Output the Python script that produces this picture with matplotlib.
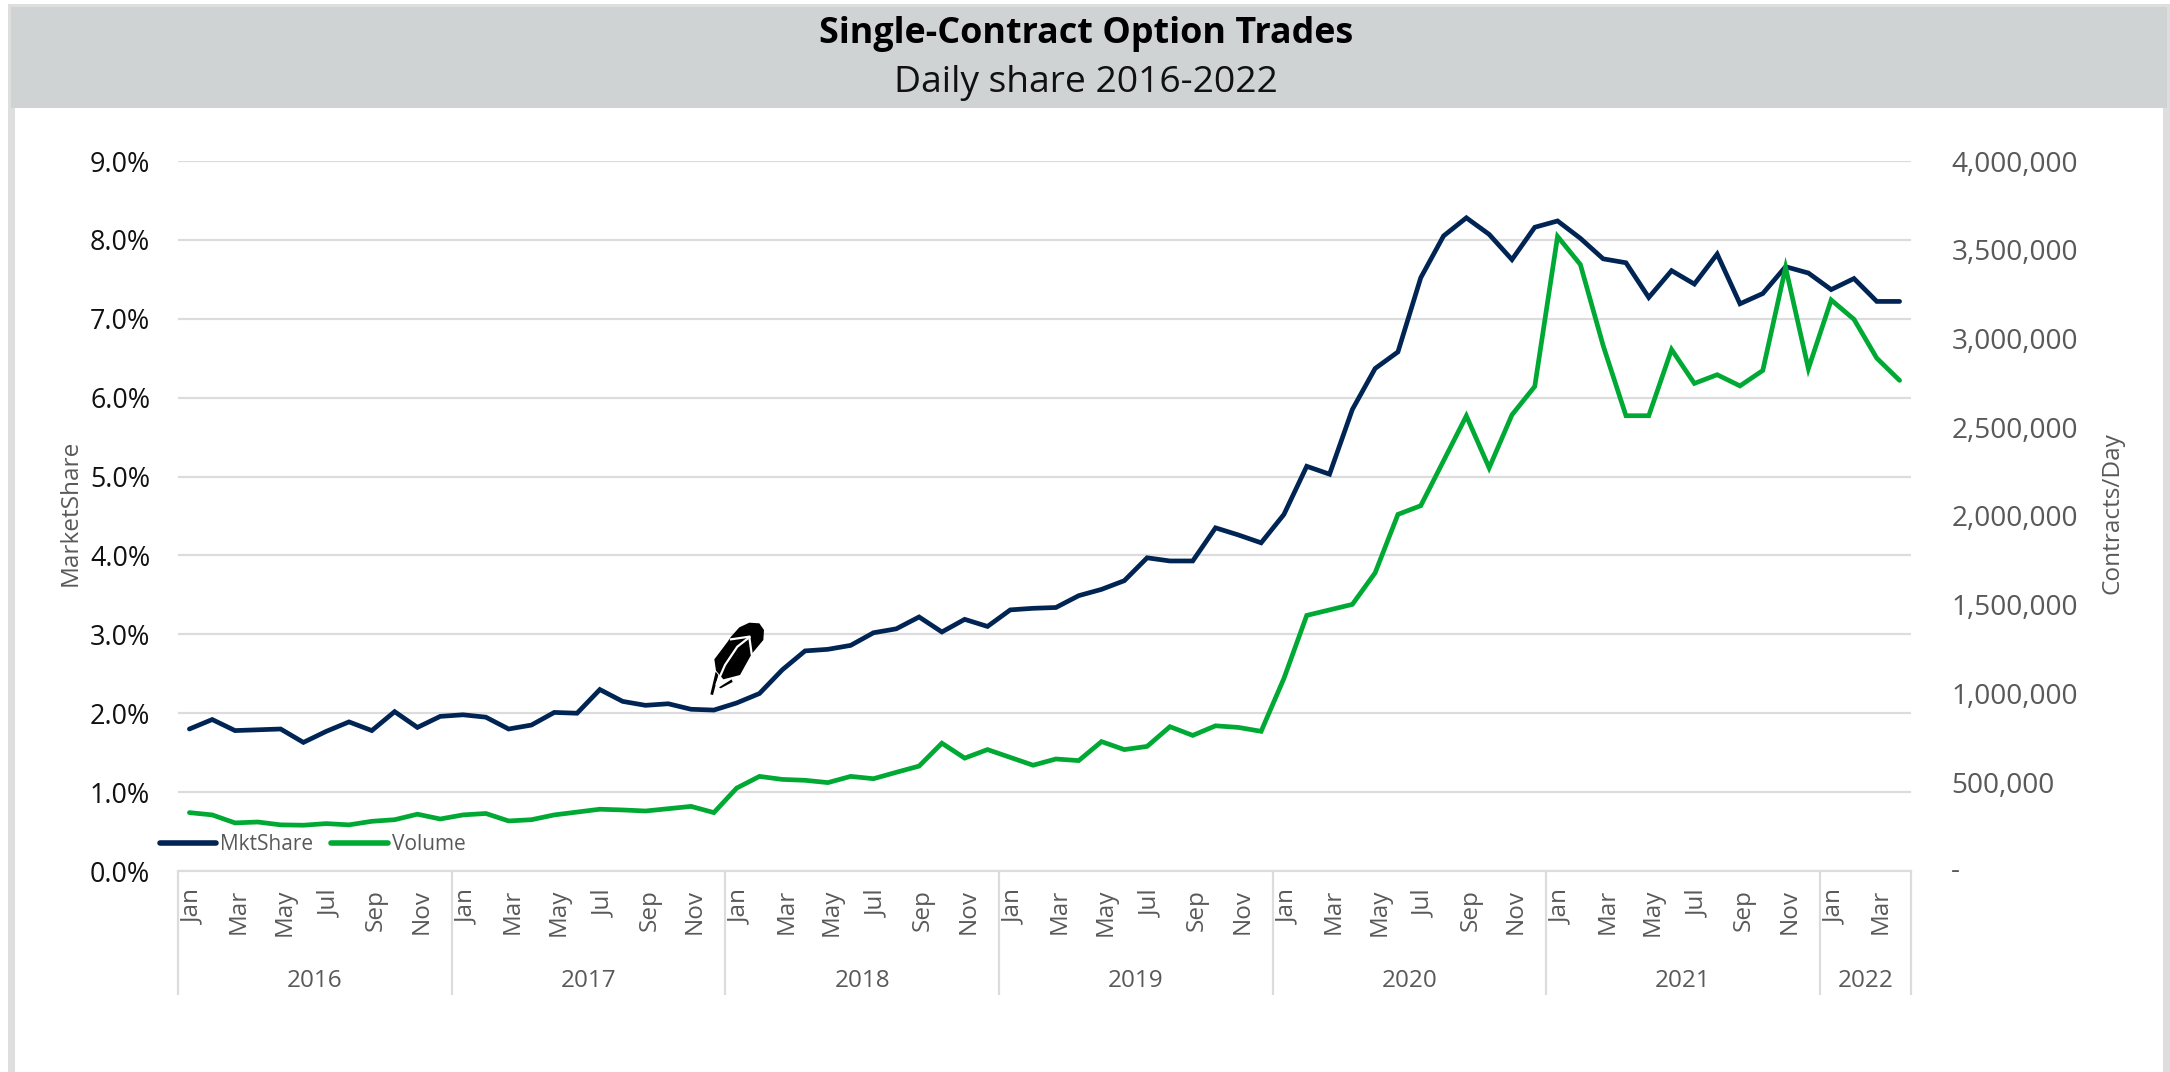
import matplotlib
matplotlib.use("Agg")
import matplotlib.pyplot as plt
from matplotlib.patches import Rectangle, PathPatch
from matplotlib.path import Path
from matplotlib.lines import Line2D
from matplotlib.ticker import FixedLocator, FixedFormatter
from matplotlib.transforms import ScaledTranslation

plt.rcParams['font.family'] = ['Open Sans', 'DejaVu Sans']

TITLE = "Single-Contract Option Trades"
SUBTITLE = "Daily share 2016-2022"
MONTHS = ["Jan", "Feb", "Mar", "Apr", "May", "Jun", "Jul", "Aug", "Sep", "Oct", "Nov", "Dec"]
YEARS = ["2016", "2017", "2018", "2019", "2020", "2021", "2022"]
MONTHS_IN_YEAR = [12, 12, 12, 12, 12, 12, 4]

mkt_share = [
    1.80, 1.92, 1.78, 1.79, 1.80, 1.63, 1.77, 1.89, 1.78, 2.02, 1.82, 1.96,
    1.98, 1.95, 1.80, 1.85, 2.01, 2.00, 2.30, 2.15, 2.10, 2.12, 2.05, 2.04,
    2.13, 2.25, 2.55, 2.79, 2.81, 2.86, 3.02, 3.07, 3.22, 3.03, 3.19, 3.10,
    3.31, 3.33, 3.34, 3.49, 3.57, 3.68, 3.97, 3.93, 3.93, 4.35, 4.26, 4.16,
    4.52, 5.13, 5.03, 5.85, 6.37, 6.58, 7.52, 8.05, 8.28, 8.07, 7.75, 8.16,
    8.24, 8.02, 7.76, 7.71, 7.27, 7.61, 7.44, 7.82, 7.19, 7.32, 7.66, 7.58,
    7.37, 7.51, 7.22, 7.22,
]
volume = [
    329e3, 316e3, 271e3, 276e3, 260e3, 258e3, 267e3, 260e3, 280e3, 289e3, 320e3, 293e3,
    316e3, 324e3, 282e3, 289e3, 316e3, 332e3, 348e3, 344e3, 338e3, 351e3, 364e3, 329e3,
    467e3, 533e3, 516e3, 511e3, 498e3, 533e3, 520e3, 556e3, 591e3, 720e3, 636e3, 684e3,
    640e3, 596e3, 631e3, 622e3, 729e3, 684e3, 702e3, 813e3, 764e3, 818e3, 809e3, 787e3,
    1085e3, 1440e3, 1471e3, 1502e3, 1680e3, 2009e3, 2058e3, 2311e3, 2564e3, 2271e3, 2570e3, 2730e3,
    3575e3, 3417e3, 2960e3, 2565e3, 2565e3, 2938e3, 2747e3, 2796e3, 2733e3, 2820e3, 3400e3, 2830e3,
    3217e3, 3108e3, 2889e3, 2764e3,
]
left_ticks = [0, 1, 2, 3, 4, 5, 6, 7, 8, 9]
right_ticks = [0, 500000, 1000000, 1500000, 2000000, 2500000, 3000000, 3500000, 4000000]

W, H = 2170, 1072
NAVY, GREEN, GREY, GRID = "#002554", "#00A933", "#595959", "#DCDCDC"

fig = plt.figure(figsize=(W / 100, H / 100), dpi=100, facecolor="white")


def px_rect(x0, y0, x1, y1, color):
    fig.add_artist(Rectangle((x0 / W, 1 - y1 / H), (x1 - x0) / W, (y1 - y0) / H,
                             transform=fig.transFigure, facecolor=color, edgecolor="none",
                             zorder=-5))


px_rect(8, 4, 2170, 1072, "#DEDEDE")
px_rect(15, 108, 2163, 1072, "white")
px_rect(11, 7, 2167, 108, "#CFD3D4")

fig.text(1086 / W, 1 - 34 / H, TITLE, ha="center", va="center", fontsize=25.8,
         fontweight="bold", color="black")
fig.text(1086 / W, 1 - 83 / H, SUBTITLE, ha="center", va="center", fontsize=26.8, color="#111111")

AX_L, AX_R, AX_T, AX_B = 178, 1911, 161, 871
ax = fig.add_axes([AX_L / W, 1 - AX_B / H, (AX_R - AX_L) / W, (AX_B - AX_T) / H])
ax.patch.set_alpha(0)
xs = [i + 0.5 for i in range(len(mkt_share))]
n_months = sum(MONTHS_IN_YEAR)

ax.set_xlim(0, n_months)
ax.set_ylim(0, 9)
ax.set_yticks(left_ticks)
ax.set_yticklabels([f"{v:.1f}%" for v in left_ticks], fontsize=19.4, color="#111111")
ax.tick_params(axis="y", length=0, pad=20)
ax.grid(axis="y", color=GRID, lw=1.6, zorder=0)
ax.set_axisbelow(True)
for s in ["top", "left", "right"]:
    ax.spines[s].set_visible(False)
ax.spines["bottom"].set_color(GRID)
ax.spines["bottom"].set_linewidth(1.6)

# month tick labels: every second month of each year
tick_pos, tick_lab = [], []
start = 0
bounds = [0]
for yr, n in zip(YEARS, MONTHS_IN_YEAR):
    for m in range(0, n, 2):
        tick_pos.append(start + m + 0.5)
        tick_lab.append(MONTHS[m])
    start += n
    bounds.append(start)
ax.xaxis.set_major_locator(FixedLocator(tick_pos))
ax.xaxis.set_major_formatter(FixedFormatter(tick_lab))
ax.tick_params(axis="x", length=0, pad=13, labelsize=17.5, labelcolor=GREY, labelrotation=90)
shift = ScaledTranslation(4 / 100, 0, fig.dpi_scale_trans)
for lab in ax.get_xticklabels():
    lab.set_transform(lab.get_transform() + shift)

xtr = ax.get_xaxis_transform()
SEP_Y = (AX_B - 995) / (AX_B - AX_T)
YEAR_Y = (AX_B - 981) / (AX_B - AX_T)
ax.vlines(bounds, SEP_Y, 0, transform=xtr, colors=GRID, lw=1.6, clip_on=False)
for yr, a, b in zip(YEARS, bounds[:-1], bounds[1:]):
    ax.text((a + b) / 2, YEAR_Y, yr, transform=xtr, ha="center", va="center",
            fontsize=17.5, color=GREY)

ax.set_ylabel("MarketShare", fontsize=17.6, color=GREY)
ax.yaxis.set_label_coords((83 - AX_L) / (AX_R - AX_L), (AX_B - 513) / (AX_B - AX_T))

l1, = ax.plot(xs, mkt_share, color=NAVY, lw=3.4, solid_joinstyle="miter",
              solid_capstyle="round", label="MktShare", zorder=3)

ax2 = ax.twinx()
ax2.patch.set_alpha(0)
ax2.set_ylim(0, 4000000)
ax2.set_yticks(right_ticks)
ax2.set_yticklabels([""] + [f"{v:,}" for v in right_ticks[1:]], fontsize=20.2, color=GREY)
ax2.tick_params(axis="y", length=0, pad=29)
for s in ax2.spines.values():
    s.set_visible(False)
ax2.annotate("-", xy=(1, 0), xycoords=ax2.get_yaxis_transform(), xytext=(44, 0),
             textcoords="offset pixels", ha="center", va="center", fontsize=20.2, color=GREY)
l2, = ax2.plot(xs, volume, color=GREEN, lw=3.4, solid_joinstyle="miter",
               solid_capstyle="round", label="Volume", zorder=3)
ax2.set_ylabel("Contracts/Day", fontsize=17.6, color=GREY)
ax2.yaxis.set_label_coords((2100 - AX_L) / (AX_R - AX_L), (AX_B - 513) / (AX_B - AX_T))

leg_handles = [Line2D([], [], color=NAVY, lw=4, solid_capstyle="round"),
               Line2D([], [], color=GREEN, lw=4, solid_capstyle="round")]
fig.legend(leg_handles, ["MktShare", "Volume"], ncols=2, frameon=False, loc="center left",
           bbox_to_anchor=(160 / W, 1 - 845 / H), borderpad=0, borderaxespad=0,
           handlelength=2.7, handletextpad=0.2, columnspacing=0.85, prop={"size": 15},
           labelcolor=GREY)


# feather logo, in figure pixels
def fp(x, y):
    return ((650 + x / 3) / W, 1 - (580 + y / 3) / H)


def fill_poly(poly, color):
    pts = [fp(*p) for p in poly]
    fig.add_artist(PathPatch(Path(pts + [pts[0]], closed=True), transform=fig.transFigure,
                             facecolor=color, edgecolor="none", zorder=5))


fill_poly([(243, 170), (268, 142), (298, 128), (328, 130), (342, 150), (340, 180), (305, 222),
           (270, 285), (220, 298), (198, 272), (193, 238), (233, 185)], "black")
fill_poly([(207, 322), (245, 298), (248, 306), (212, 325)], "black")
fill_poly([(181, 343), (197, 275), (205, 285), (189, 345)], "black")
for seg in ([(200, 312), (225, 255), (262, 200), (298, 172)], [(243, 178), (298, 170)],
            [(298, 172), (305, 222)]):
    xy = [fp(*p) for p in seg]
    fig.add_artist(Line2D([p[0] for p in xy], [p[1] for p in xy], transform=fig.transFigure,
                          color="white", lw=1.6, zorder=6))

fig.savefig("out.png", dpi=100)
